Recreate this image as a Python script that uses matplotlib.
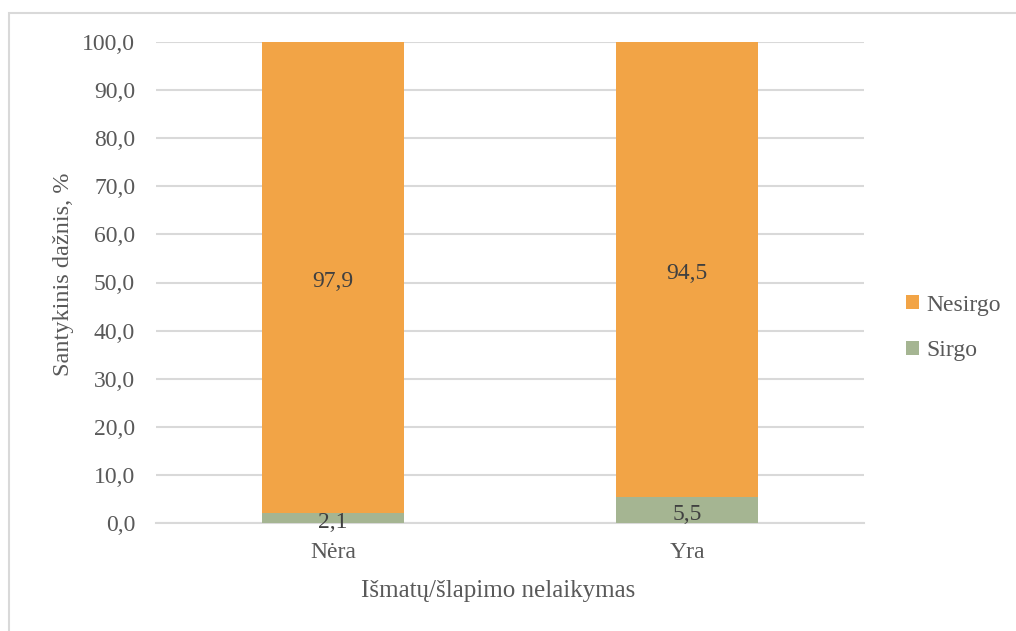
import matplotlib
matplotlib.use("Agg")
import matplotlib.pyplot as plt
from matplotlib.patches import Rectangle, Patch

categories = ["Nėra", "Yra"]
sirgo = [2.1, 5.5]
nesirgo = [97.9, 94.5]
y_ticks = [0, 10, 20, 30, 40, 50, 60, 70, 80, 90, 100]

plt.rcParams["font.family"] = ["Liberation Serif", "DejaVu Serif"]

ORANGE = "#F2A446"
GREEN = "#A5B592"
GRID = "#D9D9D9"
TICK_TXT = "#595959"
LABEL_TXT = "#404040"

W, H = 1016, 631
fig = plt.figure(figsize=(W / 100, H / 100), dpi=100)
ax = fig.add_axes([156 / W, 1 - 523 / H, (864 - 156) / W, (523 - 42) / H])

# outer chart frame
fig.patches.append(Rectangle((9 / W, -0.1), 1.2, 1 - 12.5 / H + 0.1,
                             transform=fig.transFigure, fill=False,
                             edgecolor="#D9D9D9", linewidth=1.5, zorder=0))

x = range(len(categories))
width = 0.40
ax.bar(x, sirgo, width, color=GREEN, label="Sirgo", zorder=3)
ax.bar(x, nesirgo, width, bottom=sirgo, color=ORANGE, label="Nesirgo", zorder=3)

for i in x:
    ax.text(i, sirgo[i] / 2 - 0.5, f"{sirgo[i]:.1f}".replace(".", ","), ha="center",
            va="center_baseline", fontsize=17, color=LABEL_TXT, zorder=4)
    ax.text(i, sirgo[i] + nesirgo[i] / 2 - 0.4, f"{nesirgo[i]:.1f}".replace(".", ","),
            ha="center", va="center_baseline", fontsize=17, color=LABEL_TXT, zorder=4)

ax.set_xlim(-0.5, 1.5)
ax.set_ylim(0, 100)
ax.set_yticks(y_ticks)
ax.set_yticklabels([f"{v:.1f}".replace(".", ",") for v in y_ticks])
ax.set_xticks(list(x))
ax.set_xticklabels(categories)
ax.tick_params(axis="both", length=0, labelsize=17, labelcolor=TICK_TXT)
ax.tick_params(axis="y", pad=15)
ax.tick_params(axis="x", pad=14)
ax.yaxis.grid(True, color=GRID, linewidth=1.5, zorder=0)
ax.set_axisbelow(True)
for s in ["top", "right", "left"]:
    ax.spines[s].set_visible(False)
ax.spines["bottom"].set_color(GRID)
ax.spines["bottom"].set_linewidth(1.5)

fig.text(64 / W, 1 - 274 / H, "Santykinis dažnis, %", rotation=90, ha="center",
         va="center", fontsize=17.5, color=TICK_TXT)
fig.text(498 / W, 1 - 591 / H, "Išmatų/šlapimo nelaikymas", ha="center",
         va="center", fontsize=18, color=TICK_TXT)

handles = [Patch(facecolor=ORANGE, label="Nesirgo"), Patch(facecolor=GREEN, label="Sirgo")]
fig.legend(handles=handles, loc="center left", bbox_to_anchor=(885 / W, 1 - 328 / H),
           frameon=False, fontsize=17, handlelength=0.55, handleheight=0.55,
           handletextpad=0.3, labelspacing=1.05, labelcolor=TICK_TXT)

fig.savefig("out.png", dpi=100)
